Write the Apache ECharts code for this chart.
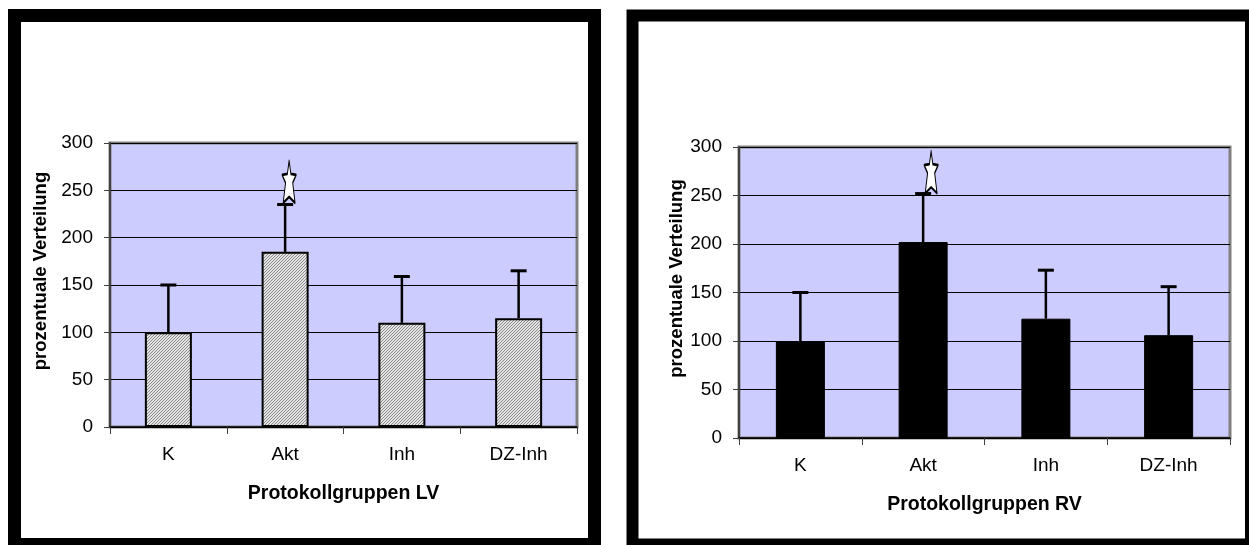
<!DOCTYPE html>
<html>
<head>
<meta charset="utf-8">
<script src="https://cdn.jsdelivr.net/npm/echarts@6/dist/echarts.min.js"></script>
<style>
  html, body { margin: 0; padding: 0; background: #fff; }
  #main { width: 1249px; height: 545px; }
</style>
</head>
<body>
<div id="main"></div>
<script>
// Daten
const categories = ['K', 'Akt', 'Inh', 'DZ-Inh'];
const yTicks = [0, 50, 100, 150, 200, 250, 300];
const lvMean = [100, 185, 110, 115];
const lvUpper = [150, 235, 159, 165];
const rvMean = [100, 202, 123, 106];
const rvUpper = [150, 252, 173, 156];
// Stern (Signifikanz) nur bei Akt
const lvStar = [null, 259, null, null];
const rvStar = [null, 274, null, null];

const font = 'Liberation Sans, Arial, sans-serif';

// Schraffur fuer LV-Balken
const hatch = document.createElement('canvas');
hatch.width = 3;
hatch.height = 3;
const hc = hatch.getContext('2d');
hc.fillStyle = '#e4e4e4';
hc.fillRect(0, 0, 3, 3);
hc.fillStyle = '#8a8a8a';
for (let i = 0; i < 3; i++) {
  hc.fillRect(i, 2 - i, 1, 1);
}

const starPath = 'path://M6 0 L7.6 13 L12.5 14 L9.3 22 L11.5 42 L6 36 L0.5 42 L2.7 22 L-0.5 14 L4.4 13 Z';

const yAxisBase = (gridIndex, nameGap) => ({
  type: 'value',
  gridIndex: gridIndex,
  min: 0,
  max: 300,
  interval: 50,
  name: 'prozentuale Verteilung',
  nameLocation: 'middle',
  nameGap: nameGap,
  nameTextStyle: { fontFamily: font, fontSize: 18.5, fontWeight: 'bold', color: '#000', padding: [0, 0, 0, 28] },
  axisLine: { show: true, lineStyle: { color: '#404040', width: 2 } },
  axisTick: { show: true, length: 6, lineStyle: { color: '#404040', width: 1 } },
  axisLabel: {
    fontFamily: font, fontSize: 19, color: '#000', margin: 17,
    formatter: v => (yTicks.indexOf(v) >= 0 ? String(v) : '')
  },
  splitLine: { show: true, lineStyle: { color: '#000', width: 1 } }
});

const xAxisBase = (gridIndex, name) => ({
  type: 'category',
  gridIndex: gridIndex,
  data: categories,
  name: name,
  nameLocation: 'middle',
  nameGap: 57,
  nameTextStyle: { fontFamily: font, fontSize: 19.5, fontWeight: 'bold', color: '#000' },
  axisLine: { show: true, lineStyle: { color: '#000', width: 1.5 } },
  axisTick: { show: true, length: 7, interval: 0, lineStyle: { color: '#404040', width: 1 } },
  axisLabel: { fontFamily: font, fontSize: 19, color: '#000', margin: 18, interval: 0 }
});

const errorBars = (data, idx) => ({
  type: 'custom',
  xAxisIndex: idx,
  yAxisIndex: idx,
  z: 5,
  data: data,
  renderItem: (params, api) => {
    const base = api.coord([api.value(0), api.value(1)]);
    const top = api.coord([api.value(0), api.value(2)]);
    return {
      type: 'group',
      children: [
        { type: 'line', shape: { x1: base[0], y1: base[1], x2: base[0], y2: top[1] }, style: { stroke: '#000', lineWidth: 2.5 } },
        { type: 'line', shape: { x1: base[0] - 8, y1: top[1], x2: base[0] + 8, y2: top[1] }, style: { stroke: '#000', lineWidth: 3 } }
      ]
    };
  }
});

const starSeries = (data, idx, dx) => ({
  type: 'scatter',
  xAxisIndex: idx,
  yAxisIndex: idx,
  z: 6,
  symbol: starPath,
  symbolSize: [14, 42],
  symbolOffset: [dx, 0],
  data: data,
  itemStyle: { color: '#fff', borderColor: '#000', borderWidth: 1.6, borderJoin: 'round', opacity: 1 }
});

const chart = echarts.init(document.getElementById('main'), null, { renderer: 'canvas' });

chart.setOption({
  backgroundColor: '#fff',
  animation: false,
  graphic: [
    { type: 'rect', z: -10, shape: { x: 14.5, y: 15.5, width: 580, height: 529 }, style: { fill: null, stroke: '#000', lineWidth: 13 } },
    { type: 'rect', z: -10, shape: { x: 632.5, y: 15.5, width: 618.5, height: 529 }, style: { fill: null, stroke: '#000', lineWidth: 12 } }
  ],
  grid: [
    { left: 110, top: 143, width: 467, height: 284, show: true, backgroundColor: '#CCCCFF', borderColor: '#808080', borderWidth: 3 },
    { left: 739, top: 147, width: 491, height: 291, show: true, backgroundColor: '#CCCCFF', borderColor: '#808080', borderWidth: 3 }
  ],
  xAxis: [
    xAxisBase(0, 'Protokollgruppen LV'),
    xAxisBase(1, 'Protokollgruppen RV')
  ],
  yAxis: [
    yAxisBase(0, 60),
    yAxisBase(1, 52)
  ],
  series: [
    {
      type: 'bar',
      xAxisIndex: 0,
      yAxisIndex: 0,
      barWidth: 47,
      data: lvMean,
      itemStyle: { color: { image: hatch, repeat: 'repeat' }, borderColor: '#000', borderWidth: 2 }
    },
    {
      type: 'bar',
      xAxisIndex: 1,
      yAxisIndex: 1,
      barWidth: 49,
      data: rvMean,
      itemStyle: { color: '#000', borderColor: '#000', borderWidth: 1 }
    },
    errorBars(lvMean.map((m, i) => [i, m, lvUpper[i]]), 0),
    errorBars(rvMean.map((m, i) => [i, m, rvUpper[i]]), 1),
    starSeries(lvStar, 0, 4),
    starSeries(rvStar, 1, 8)
  ]
});
</script>
</body>
</html>
